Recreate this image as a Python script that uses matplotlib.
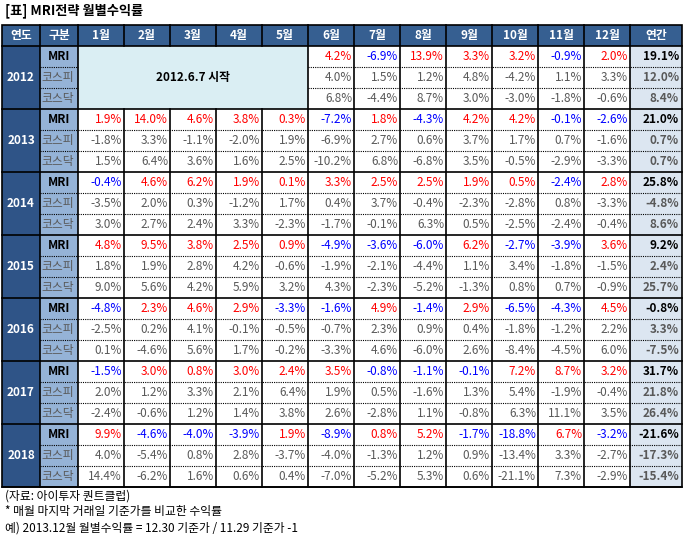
import matplotlib.pyplot as plt
from matplotlib.patches import Rectangle

plt.rcParams['font.family'] = ['Noto Sans CJK KR', 'Noto Sans CJK JP', 'Noto Sans CJK SC', 'DejaVu Sans']

years = ['2012', '2013', '2014', '2015', '2016', '2017', '2018']
kinds = ['MRI', '코스피', '코스닥']
months = ['1월', '2월', '3월', '4월', '5월', '6월', '7월', '8월', '9월', '10월', '11월', '12월']

# monthly returns (%), None = before start
mri = [
    [None] * 5 + [4.2, -6.9, 13.9, 3.3, 3.2, -0.9, 2.0],
    [1.9, 14.0, 4.6, 3.8, 0.3, -7.2, 1.8, -4.3, 4.2, 4.2, -0.1, -2.6],
    [-0.4, 4.6, 6.2, 1.9, 0.1, 3.3, 2.5, 2.5, 1.9, 0.5, -2.4, 2.8],
    [4.8, 9.5, 3.8, 2.5, 0.9, -4.9, -3.6, -6.0, 6.2, -2.7, -3.9, 3.6],
    [-4.8, 2.3, 4.6, 2.9, -3.3, -1.6, 4.9, -1.4, 2.9, -6.5, -4.3, 4.5],
    [-1.5, 3.0, 0.8, 3.0, 2.4, 3.5, -0.8, -1.1, -0.1, 7.2, 8.7, 3.2],
    [9.9, -4.6, -4.0, -3.9, 1.9, -8.9, 0.8, 5.2, -1.7, -18.8, 6.7, -3.2],
]
kospi = [
    [None] * 5 + [4.0, 1.5, 1.2, 4.8, -4.2, 1.1, 3.3],
    [-1.8, 3.3, -1.1, -2.0, 1.9, -6.9, 2.7, 0.6, 3.7, 1.7, 0.7, -1.6],
    [-3.5, 2.0, 0.3, -1.2, 1.7, 0.4, 3.7, -0.4, -2.3, -2.8, 0.8, -3.3],
    [1.8, 1.9, 2.8, 4.2, -0.6, -1.9, -2.1, -4.4, 1.1, 3.4, -1.8, -1.5],
    [-2.5, 0.2, 4.1, -0.1, -0.5, -0.7, 2.3, 0.9, 0.4, -1.8, -1.2, 2.2],
    [2.0, 1.2, 3.3, 2.1, 6.4, 1.9, 0.5, -1.6, 1.3, 5.4, -1.9, -0.4],
    [4.0, -5.4, 0.8, 2.8, -3.7, -4.0, -1.3, 1.2, 0.9, -13.4, 3.3, -2.7],
]
kosdaq = [
    [None] * 5 + [6.8, -4.4, 8.7, 3.0, -3.0, -1.8, -0.6],
    [1.5, 6.4, 3.6, 1.6, 2.5, -10.2, 6.8, -6.8, 3.5, -0.5, -2.9, -3.3],
    [3.0, 2.7, 2.4, 3.3, -2.3, -1.7, -0.1, 6.3, 0.5, -2.5, -2.4, -0.4],
    [9.0, 5.6, 4.2, 5.9, 3.2, 4.3, -2.3, -5.2, -1.3, 0.8, 0.7, -0.9],
    [0.1, -4.6, 5.6, 1.7, -0.2, -3.3, 4.6, -6.0, 2.6, -8.4, -4.5, 6.0],
    [-2.4, -0.6, 1.2, 1.4, 3.8, 2.6, -2.8, 1.1, -0.8, 6.3, 11.1, 3.5],
    [14.4, -6.2, 1.6, 0.6, 0.4, -7.0, -5.2, 5.3, 0.6, -21.1, 7.3, -2.9],
]
annual_mri = [19.1, 21.0, 25.8, 9.2, -0.8, 31.7, -21.6]
annual_kospi = [12.0, 0.7, -4.8, 2.4, 3.3, 21.8, -17.3]
annual_kosdaq = [8.4, 0.7, 8.6, 25.7, -7.5, 26.4, -15.4]

fig = plt.figure(figsize=(6.86, 5.36), dpi=100)
ax = fig.add_axes([0, 0, 1, 1])
ax.set_xlim(0, 686)
ax.set_ylim(536, 0)
ax.axis('off')

hdr_c = '#365f91'
year_c = '#2f5487'
kind_c = '#95b3d7'
ann_c = '#dce6f1'
start_c = '#daeef3'
gray = '#595959'

x_year, x_kind, x_m0, mw = 2, 40, 78, 46
x_ann = x_m0 + 12 * mw
x_end = 682
y_top, hh, rh = 25, 21, 21
y0 = y_top + hh
y_end = y0 + 21 * rh
fs = 8.5

ax.text(5, 11, '[표] MRI전략 월별수익률', fontsize=9.5, fontweight='bold', va='center')

# header
ax.add_patch(Rectangle((x_year, y_top), x_end - x_year, hh, color=hdr_c, lw=0))
heads = ['연도', '구분'] + months + ['연간']
lefts = [x_year, x_kind] + [x_m0 + i * mw for i in range(12)] + [x_ann]
rights = lefts[1:] + [x_end]
for h, l, r in zip(heads, lefts, rights):
    ax.text((l + r) / 2, y_top + hh / 2, h, color='white', fontsize=fs, fontweight='bold', ha='center', va='center')

ax.add_patch(Rectangle((x_year, y0), x_kind - x_year, y_end - y0, color=year_c, lw=0))
ax.add_patch(Rectangle((x_kind, y0), x_m0 - x_kind, y_end - y0, color=kind_c, lw=0))
ax.add_patch(Rectangle((x_ann, y0), x_end - x_ann, y_end - y0, color=ann_c, lw=0))
ax.add_patch(Rectangle((x_m0, y0), 5 * mw, 3 * rh, color=start_c, lw=0))
ax.text(x_m0 + 2.5 * mw, y0 + 1.5 * rh, '2012.6.7 시작', fontsize=fs, fontweight='bold', ha='center', va='center')

def fmt(v):
    return f'{v:.1f}%'

dot = dict(color='black', lw=0.8, ls=(0, (1, 1)))
for yi, yr in enumerate(years):
    gy = y0 + yi * 3 * rh
    ax.text((x_year + x_kind) / 2, gy + 1.5 * rh, yr, color='white', fontsize=fs, fontweight='bold', ha='center', va='center')
    rows = [(mri[yi], annual_mri[yi]), (kospi[yi], annual_kospi[yi]), (kosdaq[yi], annual_kosdaq[yi])]
    for ki, (vals, ann) in enumerate(rows):
        cy = gy + ki * rh + rh / 2
        if ki == 0:
            ax.text((x_kind + x_m0) / 2, cy, kinds[ki], fontsize=fs, fontweight='bold', ha='center', va='center')
        else:
            ax.text(x_kind + 1, cy, kinds[ki], fontsize=fs, color=gray, ha='left', va='center')
        for mi, v in enumerate(vals):
            if v is None:
                continue
            if ki == 0:
                c = 'red' if v >= 0 else 'blue'
            else:
                c = gray
            ax.text(x_m0 + (mi + 1) * mw - 2, cy, fmt(v), fontsize=fs, color=c, ha='right', va='center')
        ax.text(x_end - 3, cy, fmt(ann), fontsize=fs, fontweight='bold',
                color='black' if ki == 0 else gray, ha='right', va='center')
        if ki > 0:
            ax.plot([x_kind, x_m0], [gy + ki * rh] * 2, **dot)
            x_from = x_m0 + 5 * mw if yi == 0 else x_m0
            ax.plot([x_from, x_end], [gy + ki * rh] * 2, **dot)
    ax.plot([x_year, x_end], [gy + 3 * rh] * 2, color='black', lw=1.2)

# vertical lines (none inside the merged 2012 start cell)
for i, l in enumerate(lefts[1:]):
    if 2 <= i <= 5:
        ax.plot([l, l], [y_top, y0], color='black', lw=1.2)
        ax.plot([l, l], [y0 + 3 * rh, y_end], color='black', lw=1.2)
    else:
        ax.plot([l, l], [y_top, y_end], color='black', lw=1.2)
ax.add_patch(Rectangle((x_year, y_top), x_end - x_year, y_end - y_top, fill=False, ec='black', lw=1.2))
ax.plot([x_year, x_end], [y0, y0], color='black', lw=1.2)

notes = ['(자료: 아이투자 퀀트클럽)', '* 매월 마지막 거래일 기준가를 비교한 수익률',
         '예) 2013.12월 월별수익률 = 12.30 기준가 / 11.29 기준가 -1']
for i, n in enumerate(notes):
    ax.text(5, 496 + i * 16, n, fontsize=8.5, va='center')

fig.savefig('out.png', dpi=100)
